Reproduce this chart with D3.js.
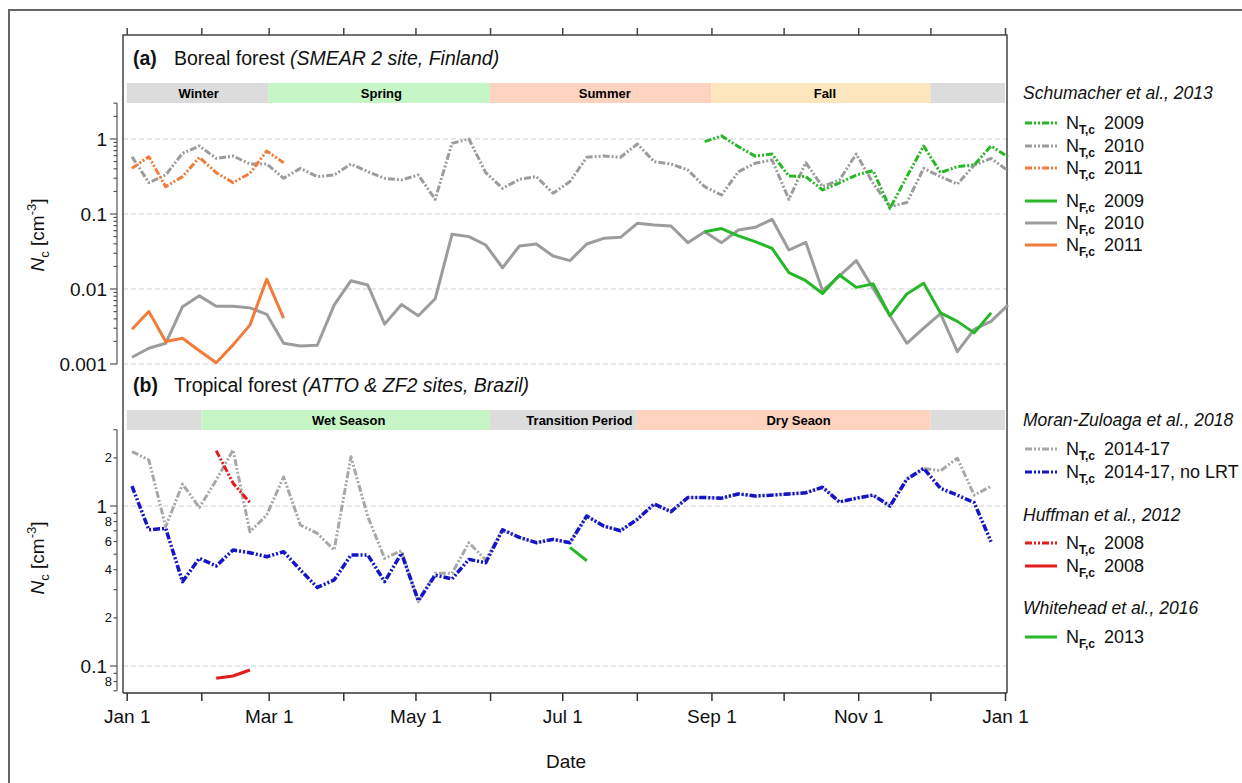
<!DOCTYPE html>
<html lang="en">
<head>
<meta charset="utf-8">
<title>Nc seasonal cycle</title>
<script src="https://d3js.org/d3.v7.min.js"></script>
<style>
  body { margin: 0; background: #fff; }
  svg { font-family: "Liberation Sans", Arial, sans-serif; }
</style>
</head>
<body>
<script>
// ---- data (weekly values, index k = week of year, starting at firstWeek) ----
var weeks = d3.range(53);

// panel (a) boreal forest, Schumacher et al. 2013
var ntGray2010 = [0.58, 0.262, 0.331, 0.644, 0.807, 0.552, 0.593, 0.464, 0.464, 0.299,
  0.406, 0.315, 0.331, 0.464, 0.367, 0.299, 0.284, 0.331, 0.157, 0.875,
  1.0, 0.356, 0.22, 0.29, 0.315, 0.189, 0.27, 0.57, 0.593, 0.57,
  0.858, 0.499, 0.464, 0.386, 0.231, 0.179, 0.367, 0.474, 0.525, 0.157,
  0.483, 0.231, 0.284, 0.631, 0.256, 0.125, 0.142, 0.406, 0.315, 0.251,
  0.45, 0.552, 0.378];
var nfGray2010 = [0.00123, 0.00162, 0.00189, 0.0058, 0.0081, 0.0059, 0.0059, 0.0056, 0.0046, 0.00189,
  0.00174, 0.00178, 0.0061, 0.0129, 0.0113, 0.0034, 0.0062, 0.0044, 0.0074, 0.0536,
  0.0499, 0.0386, 0.0192, 0.0374, 0.0398, 0.0275, 0.0239, 0.0398, 0.0474, 0.0489,
  0.0751, 0.0713, 0.0691, 0.0415, 0.058, 0.0415, 0.0612, 0.0664, 0.0849, 0.0331,
  0.0419, 0.0095, 0.015, 0.0239, 0.0102, 0.0044, 0.00189, 0.003, 0.0047, 0.00146,
  0.0029, 0.0037, 0.0061];
var ntGreen2009Start = 34;
var ntGreen2009 = [0.92, 1.1, 0.79, 0.59, 0.63, 0.32, 0.315, 0.209, 0.26, 0.331,
  0.378, 0.119, 0.315, 0.807, 0.356, 0.428, 0.45, 0.807, 0.58];
var nfGreen2009Start = 34;
var nfGreen2009 = [0.058, 0.064, 0.051, 0.0428, 0.0348, 0.0165, 0.0129, 0.0087, 0.0154, 0.0105,
  0.0117, 0.0044, 0.0086, 0.0119, 0.0048, 0.0037, 0.0026, 0.0048];
var ntOrange2011 = [0.406, 0.58, 0.231, 0.315, 0.57, 0.356, 0.262, 0.348, 0.692, 0.483];
var nfOrange2011 = [0.0029, 0.005, 0.002, 0.0022, 0.0015, 0.00104, 0.0018, 0.0033, 0.0135, 0.0041];

// panel (b) tropical forest
var ntBlueNoLRT = [1.33, 0.71, 0.725, 0.337, 0.471, 0.422, 0.531, 0.511, 0.482, 0.518,
  0.398, 0.31, 0.345, 0.494, 0.494, 0.337, 0.506, 0.256, 0.37, 0.35,
  0.464, 0.442, 0.71, 0.637, 0.59, 0.619, 0.59, 0.866, 0.75, 0.701,
  0.826, 1.03, 0.922, 1.13, 1.13, 1.12, 1.19, 1.155, 1.17, 1.19,
  1.21, 1.31, 1.06, 1.12, 1.17, 1.0, 1.47, 1.72, 1.29, 1.17,
  1.05, 0.598];
var ntGrayMZ = [2.19, 1.94, 0.743, 1.37, 0.98, 1.45, 2.24, 0.69, 0.879, 1.52,
  0.761, 0.675, 0.531, 2.03, 0.858, 0.471, 0.526, 0.252, 0.38, 0.38,
  0.59, 0.46, 0.71, 0.637, 0.59, 0.619, 0.59, 0.866, 0.75, 0.701,
  0.826, 1.03, 0.922, 1.13, 1.13, 1.12, 1.19, 1.155, 1.17, 1.19,
  1.21, 1.31, 1.06, 1.12, 1.17, 1.0, 1.47, 1.72, 1.66, 1.99,
  1.17, 1.33];
var ntRed2008Start = 5;
var ntRed2008 = [2.22, 1.39, 1.05];
var nfRed2008Start = 5;
var nfRed2008 = [0.0838, 0.0866, 0.0944];
var nfGreen2013Start = 26;
var nfGreen2013 = [0.552, 0.455];

var seasonsA = ["Winter", "Spring", "Summer", "Fall", ""];
var seasonBoundsA = ["01-01", "03-01", "06-01", "09-01", "12-01", "next"];
var seasonsB = ["", "Wet Season", "Transition Period", "Dry Seaon", ""];
var seasonBoundsB = ["01-01", "02-01", "06-01", "08-01", "12-01", "next"];

var yTicksA = [0.001, 0.01, 0.1, 1];
var yGridB = [0.1, 1];
var yLabelsB = {"2": "2", "1": "1", "0.8": "8", "0.6": "6", "0.4": "4", "0.2": "2", "0.1": "0.1", "0.08": "8"};

// ---- setup ----
var w = 1242, h = 783;
var svg = d3.select("body").append("svg").attr("width", w).attr("height", h);

var gray = "#9c9c9c", green = "#26b826", orange = "#f07b3a", blue = "#1414c8", red = "#e31b1b";
var dashNT = "7,2,2,2,2,2";

var yr0 = new Date(2001, 0, 1), yr1 = new Date(2002, 0, 1);
var x = d3.scaleTime().domain([yr0, yr1]).range([126.7, 1005]);
function weekDate(k) { return new Date(yr0.getTime() + (2.2 + 7 * k) * 864e5); }
function boundDate(s) { return s === "next" ? yr1 : new Date("2001-" + s + "T00:00:00"); }

var yA = d3.scaleLog().domain([0.001, 3]).range([364, 103.2]);
var yB = d3.scaleLog().domain([0.07, 3]).range([690.8, 429.7]);

var boxL = 123, boxR = 1007, boxT = 35, boxB = 693;

// outer frame
svg.append("path").attr("d", "M9,783V10H1242")
  .attr("fill", "none").attr("stroke", "#666").attr("stroke-width", 2);

// season bars
function seasons(names, bounds, y0, fills, shift) {
  var g = svg.append("g");
  names.forEach(function(n, i) {
    var a = x(boundDate(bounds[i])), b = x(boundDate(bounds[i + 1]));
    g.append("rect").attr("x", a).attr("y", y0).attr("width", b - a).attr("height", 20)
      .attr("fill", fills[i]);
    if (n) g.append("text").attr("x", (a + b) / 2 + (shift[i] || 0)).attr("y", y0 + 10)
      .attr("dy", "0.35em").attr("text-anchor", "middle")
      .attr("font-size", 13).attr("font-weight", "bold").text(n);
  });
}
seasons(seasonsA, seasonBoundsA, 83, ["#dcdcdc", "#c6f6c6", "#fdd2bf", "#fde6bd", "#dcdcdc"], [1, 2, 4, 4, 0]);
seasons(seasonsB, seasonBoundsB, 410, ["#dcdcdc", "#c6f6c6", "#dcdcdc", "#fdd2bf", "#dcdcdc"], [0, 3, 16, 15, 0]);

// grid lines
function grid(vals, y) {
  svg.append("g").selectAll("line").data(vals).join("line")
    .attr("x1", boxL).attr("x2", boxR)
    .attr("y1", function(d) { return y(d); }).attr("y2", function(d) { return y(d); })
    .attr("stroke", "#cfcfcf").attr("stroke-width", 1).attr("stroke-dasharray", "5,3");
}
grid(yTicksA, yA);
grid(yGridB, yB);

// box
svg.append("path")
  .attr("d", "M" + boxL + "," + boxB + "V" + boxT + "H" + boxR + "V" + boxB)
  .attr("fill", "none").attr("stroke", "#444").attr("stroke-width", 1.5);

// x axes
var xAxis = d3.axisBottom(x).ticks(d3.timeMonth.every(1)).tickSize(8)
  .tickFormat(function(d) { return d.getMonth() % 2 === 0 ? d3.timeFormat("%b %-d")(d) : ""; });
var gx = svg.append("g").attr("transform", "translate(0," + boxB + ")").call(xAxis);
gx.select(".domain").remove();
gx.selectAll("line").attr("stroke", "#333").attr("stroke-width", 1.5);
gx.selectAll("text").attr("y", 23).attr("dy", "0.35em").attr("font-size", 19)
  .attr("font-family", "Liberation Sans, Arial, sans-serif").attr("fill", "#111");
svg.append("line").attr("x1", boxL).attr("x2", boxR).attr("y1", boxB).attr("y2", boxB)
  .attr("stroke", "#333").attr("stroke-width", 1.5);

var gxt = svg.append("g").attr("transform", "translate(0," + boxT + ")")
  .call(d3.axisTop(x).ticks(d3.timeMonth.every(1)).tickSize(7).tickFormat(""));
gxt.select(".domain").remove();
gxt.selectAll("line").attr("stroke", "#444").attr("stroke-width", 1.5);

svg.append("text").attr("x", 566).attr("y", 768).attr("text-anchor", "middle")
  .attr("font-size", 19).attr("fill", "#111").text("Date");

// y axes
function yAxis(y, labelFn) {
  var g = svg.append("g");
  var r = y.range(), dom = y.domain();
  g.append("line").attr("x1", 117).attr("x2", 117).attr("y1", r[0]).attr("y2", r[1])
    .attr("stroke", "#555").attr("stroke-width", 1.2);
  var ticks = [];
  for (var e = -4; e <= 1; e++) {
    for (var m = 1; m <= 9; m++) {
      var v = +(m * Math.pow(10, e)).toPrecision(3);
      if (v >= dom[0] - 1e-9 && v <= dom[1] + 1e-9) ticks.push({v: v, major: m === 1});
    }
  }
  ticks.forEach(function(t) {
    var yy = y(t.v);
    g.append("line").attr("x1", t.major ? 110 : 113.5).attr("x2", 117)
      .attr("y1", yy).attr("y2", yy).attr("stroke", "#555").attr("stroke-width", 1.2);
    var lab = labelFn(t);
    if (lab) {
      g.append("text").attr("x", t.major ? 107 : 112).attr("y", yy).attr("dy", "0.35em")
        .attr("text-anchor", "end").attr("font-size", t.major ? 19 : 13)
        .attr("fill", "#111").text(lab);
    }
  });
}
yAxis(yA, function(t) { return t.major ? String(t.v) : ""; });
yAxis(yB, function(t) { return yLabelsB[String(t.v)] || ""; });

function yTitle(cy) {
  var t = svg.append("text").attr("transform", "translate(44," + cy + ") rotate(-90)")
    .attr("text-anchor", "middle").attr("font-size", 19).attr("fill", "#111");
  t.append("tspan").attr("font-style", "italic").text("N");
  t.append("tspan").attr("font-size", 13).attr("dy", 5).text("c");
  t.append("tspan").attr("dy", -5).text(" [cm");
  t.append("tspan").attr("font-size", 13).attr("dy", -8).text("-3");
  t.append("tspan").attr("dy", 8).text("]");
}
yTitle(235);
yTitle(558);

// titles
function title(y, tag, main, ital) {
  svg.append("text").attr("x", 133).attr("y", y).attr("font-size", 19.5)
    .attr("font-weight", "bold").attr("fill", "#111").text(tag);
  var t = svg.append("text").attr("x", 174).attr("y", y).attr("font-size", 19.5).attr("fill", "#111");
  t.append("tspan").text(main + " ");
  t.append("tspan").attr("font-style", "italic").text(ital);
}
title(65, "(a)", "Boreal forest", "(SMEAR 2 site, Finland)");
title(392, "(b)", "Tropical forest", "(ATTO & ZF2 sites, Brazil)");

// series
function series(vals, start, y, color, dashed, width) {
  var pts = vals.map(function(v, i) { return {k: weeks[start + i], v: v}; });
  var line = d3.line().x(function(d) { return x(weekDate(d.k)); })
    .y(function(d) { return y(d.v); });
  svg.append("path").datum(pts).attr("d", line).attr("fill", "none")
    .attr("stroke", color).attr("stroke-width", width || 3)
    .attr("stroke-linejoin", "round")
    .attr("stroke-dasharray", dashed ? dashNT : null);
}
series(nfGray2010, 0, yA, gray, false);
series(ntGray2010, 0, yA, gray, true);
series(nfOrange2011, 0, yA, orange, false);
series(ntOrange2011, 0, yA, orange, true);
series(nfGreen2009, nfGreen2009Start, yA, green, false);
series(ntGreen2009, ntGreen2009Start, yA, green, true);

series(ntGrayMZ, 0, yB, "#a8a8a8", true);
series(ntBlueNoLRT, 0, yB, blue, true, 3.5);
series(ntRed2008, ntRed2008Start, yB, red, true);
series(nfRed2008, nfRed2008Start, yB, red, false);
series(nfGreen2013, nfGreen2013Start, yB, green, false);

// legends
function legHead(y, txt) {
  svg.append("text").attr("x", 1023).attr("y", y).attr("dy", "0.35em")
    .attr("font-size", 17.5).attr("font-style", "italic").attr("fill", "#111").text(txt);
}
function legItem(y, color, dashed, sub, label) {
  svg.append("line").attr("x1", 1025).attr("x2", 1057).attr("y1", y).attr("y2", y)
    .attr("stroke", color).attr("stroke-width", 3).attr("stroke-dasharray", dashed ? dashNT : null);
  var t = svg.append("text").attr("x", 1066).attr("y", y + 6).attr("font-size", 18).attr("fill", "#111");
  t.append("tspan").text("N");
  t.append("tspan").attr("font-size", 12).attr("font-weight", "bold").attr("dy", 5).text(sub);
  svg.append("text").attr("x", 1104).attr("y", y + 6).attr("font-size", 18).attr("fill", "#111").text(label);
}
legHead(93, "Schumacher et al., 2013");
legItem(123, green, true, "T,c", "2009");
legItem(146, gray, true, "T,c", "2010");
legItem(168, orange, true, "T,c", "2011");
legItem(201, green, false, "F,c", "2009");
legItem(223, gray, false, "F,c", "2010");
legItem(245, orange, false, "F,c", "2011");

legHead(420, "Moran-Zuloaga et al., 2018");
legItem(449, "#a8a8a8", true, "T,c", "2014-17");
legItem(472, blue, true, "T,c", "2014-17, no LRT");
legHead(515, "Huffman et al., 2012");
legItem(543, red, true, "T,c", "2008");
legItem(566, red, false, "F,c", "2008");
legHead(608, "Whitehead et al., 2016");
legItem(637, green, false, "F,c", "2013");
</script>
</body>
</html>
